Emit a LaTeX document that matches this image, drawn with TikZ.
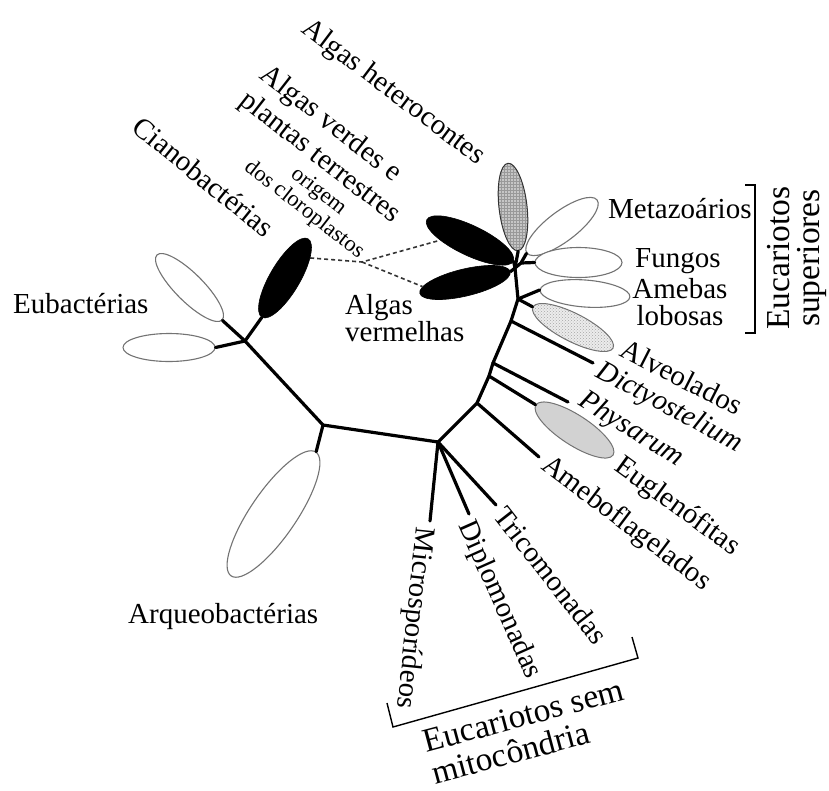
\documentclass[tikz,border=0pt]{standalone}
\usepackage{fontspec}
\setmainfont{Liberation Serif}
\usetikzlibrary{shapes.geometric,patterns}
\begin{document}
\begin{tikzpicture}[x=1pt,y=-1pt,
  br/.style={line width=3.2pt, line cap=round, line join=round},
  brk/.style={line width=1.4pt, line join=miter},
  dotln/.style={line width=1.6pt, dash pattern=on 4pt off 3pt, draw=black!80},
  ell/.style={ellipse, inner sep=0pt, draw=black!55, line width=1.1pt, fill=white},
  blk/.style={ellipse, inner sep=0pt, draw=black, fill=black, line width=0.6pt},
  chk/.style={ellipse, inner sep=0pt, draw=gray!40!black, line width=1pt, preaction={fill=gray!45}, pattern=grid, pattern color=gray!80},
  dts/.style={ellipse, inner sep=0pt, draw=black!55, line width=1pt, preaction={fill=gray!15}, pattern=crosshatch dots, pattern color=gray!70},
  gry/.style={ellipse, inner sep=0pt, draw=black!55, line width=1pt, fill=gray!35},
  lab/.style={inner sep=0pt, font=\fontsize{29}{31}\selectfont},
  labit/.style={inner sep=0pt, font=\fontsize{29}{31}\selectfont\itshape},
  big/.style={inner sep=0pt, font=\fontsize{33.5}{30}\selectfont},
  small/.style={inner sep=0pt, font=\fontsize{22.5}{23}\selectfont}
]
\useasboundingbox (0,0) rectangle (829,790);

% ellipses (leaf groups)
\node[ell, minimum width=92pt, minimum height=28pt, rotate=135] (eub1) at (189.5,287.5) {};
\node[ell, minimum width=92pt, minimum height=28pt, rotate=180] (eub2) at (169,347.5) {};
\node[blk, minimum width=91pt, minimum height=30pt, rotate=59.5] (cyano) at (285,278) {};
\node[ell, minimum width=150pt, minimum height=46pt, rotate=235.6] (arq) at (273.5,514) {};
\node[chk, minimum width=88pt, minimum height=28pt, rotate=96.6] (hetero) at (513,207) {};
\node[ell, minimum width=88pt, minimum height=30pt, rotate=37.1] (meta) at (562,226.5) {};
\node[ell, minimum width=87pt, minimum height=30pt, rotate=0] (fung) at (578.5,262.5) {};
\node[ell, minimum width=90pt, minimum height=27pt, rotate=-4.4] (ameb) at (585,293.5) {};
\node[dts, minimum width=90pt, minimum height=28pt, rotate=-27.1] (alve) at (573,327.5) {};
\node[blk, minimum width=96pt, minimum height=30pt, rotate=154.5] (verd) at (470,240.5) {};
\node[blk, minimum width=93pt, minimum height=27pt, rotate=193.5] (verm) at (465,282.5) {};
\node[gry, minimum width=92pt, minimum height=30pt, rotate=-33] (eugl) at (574.5,430) {};

% junctions and free ends
\coordinate (R1) at (323,425);
\coordinate (E) at (245,341);
\coordinate (J2) at (438,442);
\coordinate (J3) at (477,403);
\coordinate (J4a) at (489,376);
\coordinate (J4b) at (493,363);
\coordinate (J5) at (511,321);
\coordinate (J6) at (518,299);
\coordinate (C) at (515,268);
\coordinate (K) at (521,263);
\coordinate (micro) at (430,521);
\coordinate (diplo) at (469,514);
\coordinate (trico) at (496,505);
\coordinate (amebf) at (539,457);
\coordinate (physl) at (568,402);
\coordinate (dictl) at (593,363);
\coordinate (D) at (362,262);

% tree
\draw[br] (eub1.west) -- (E) -- (R1) -- (J2) -- (J3) -- (J4a) -- (J4b) -- (J5) -- (J6) -- (C) -- (hetero.west);
\draw[br] (E) -- (eub2.west);
\draw[br] (E) -- (cyano.west);
\draw[br] (R1) -- (arq.west);
\draw[br] (J2) -- (micro);
\draw[br] (J2) -- (diplo);
\draw[br] (J2) -- (trico);
\draw[br] (J3) -- (amebf);
\draw[br] (J4a) -- (eugl.west);
\draw[br] (J4b) -- (physl);
\draw[br] (J5) -- (dictl);
\draw[br] (J6) -- (ameb.west);
\draw[br] (J6) -- (alve.west);
\draw[br] (C) -- (K) -- (meta.west);
\draw[br] (K) -- (fung.west);
\draw[br] (C) -- (verd.west);
\draw[br] (C) -- (verm.west);

% dotted chloroplast origin
\draw[dotln] (cyano.-21) -- (D) -- (verd.25);
\draw[dotln] (D) -- (verm.-8);

% brackets
\coordinate (s1) at (745,185);
\coordinate (s2) at (755,185);
\coordinate (s3) at (755,333);
\coordinate (s4) at (745,333);
\draw[brk] (s1) -- (s2) -- (s3) -- (s4);
\coordinate (m1) at (387,703);
\coordinate (m2) at (393,727);
\coordinate (m3) at (638,658);
\coordinate (m4) at (632,637);
\draw[brk] (m1) -- (m2) -- (m3) -- (m4);

% labels
\node[lab, anchor=base west] (teub) at (13,313) {Eubactérias};
\node[lab, anchor=base west] (tarq) at (128,623) {Arqueobactérias};
\node[lab, rotate=-39] (tcia) at (204,177) {Cianobactérias};
\node[lab, rotate=-37] (thet) at (393,93) {Algas heterocontes};
\node[lab, rotate=-38, align=left, font=\fontsize{29}{33}\selectfont] (tverd) at (330,145) {Algas verdes e\\plantas terrestres};
\node[small, rotate=-38, align=center] (tori) at (311,201) {origem\\dos cloroplastos};
\node[lab, anchor=north west, align=left, font=\fontsize{29}{27}\selectfont] (tverm) at (345,294) {Algas\\vermelhas};
\node[lab, anchor=base west] (tmeta) at (608,218) {Metazoários};
\node[lab, anchor=base west] (tfung) at (635,267) {Fungos};
\node[lab, anchor=north, align=center, font=\fontsize{29}{27}\selectfont] (tameb) at (680,278) {Amebas\\lobosas};
\node[big, rotate=90, align=center] (tsup) at (797,258) {Eucariotos\\superiores};
\node[lab, rotate=-27] (talve) at (682,377) {Alveolados};
\node[labit, rotate=-28] (tdict) at (669,408) {Dictyostelium};
\node[labit, rotate=-32] (tphys) at (631,430) {Physarum};
\node[lab, rotate=-36] (teugl) at (677,507) {Euglenófitas};
\node[lab, rotate=-37] (tamf) at (626,524) {Ameboflagelados};
\node[lab, rotate=-52] (ttri) at (551,575) {Tricomonadas};
\node[lab, rotate=-66] (tdip) at (499,600) {Diplomonadas};
\node[lab, rotate=-96] (tmic) at (414,618) {Microsporídeos};
\node[big, rotate=15, anchor=north west, align=left, font=\fontsize{33.5}{33}\selectfont] (tsem) at (421,731) {Eucariotos sem\\mitocôndria};
\end{tikzpicture}
\end{document}
